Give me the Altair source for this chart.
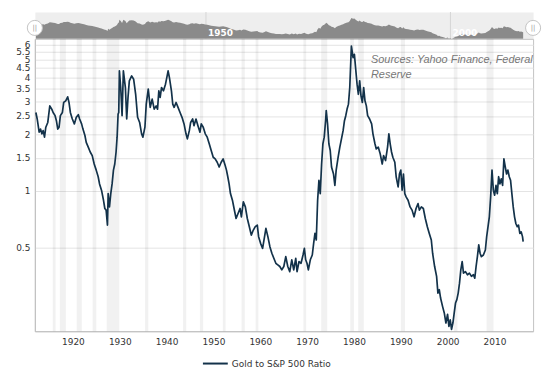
import altair as alt
import pandas as pd

# ---- data ----
years = [
    1912.09, 1912.37, 1912.79, 1913.08, 1913.36, 1913.64, 1913.93, 1914.21, 1914.63, 1915.06,
    1915.48, 1915.77, 1916.19, 1916.47, 1916.76, 1917.04, 1917.32, 1917.75, 1918.03, 1918.46,
    1918.88, 1919.16, 1919.45, 1919.87, 1920.30, 1920.72, 1921.15, 1921.43, 1921.85, 1922.14,
    1922.56, 1922.84, 1923.27, 1923.69, 1924.12, 1924.54, 1924.97, 1925.39, 1925.68, 1926.10,
    1926.52, 1926.81, 1927.09, 1927.37, 1927.52, 1927.80, 1928.08, 1928.36, 1928.65, 1928.93,
    1929.21, 1929.43, 1929.64, 1929.78, 1929.92, 1930.20, 1930.49, 1930.77, 1931.20, 1931.48,
    1931.76, 1932.04, 1932.54, 1932.96, 1933.39, 1933.81, 1934.24, 1934.66, 1934.94, 1935.37,
    1935.65, 1936.08, 1936.50, 1936.92, 1937.35, 1937.77, 1938.06, 1938.34, 1938.62, 1938.91,
    1939.33, 1939.76, 1940.04, 1940.32, 1940.60, 1941.03, 1941.31, 1941.60, 1942.02, 1942.44,
    1942.87, 1943.29, 1943.72, 1944.14, 1944.43, 1944.85, 1945.13, 1945.56, 1945.84, 1946.27,
    1946.69, 1947.12, 1947.40, 1947.82, 1948.25, 1948.67, 1949.10, 1949.52, 1949.95, 1950.37,
    1950.80, 1951.22, 1951.65, 1952.07, 1952.49, 1952.78, 1953.06, 1953.34, 1953.63, 1954.05,
    1954.40, 1954.83, 1955.25, 1955.68, 1955.96, 1956.38, 1956.81, 1957.23, 1957.66, 1958.08,
    1958.51, 1958.93, 1959.36, 1959.64, 1960.06, 1960.49, 1960.91, 1961.20, 1961.62, 1962.05,
    1962.47, 1962.89, 1963.32, 1963.74, 1964.17, 1964.59, 1965.02, 1965.44, 1965.87, 1966.29,
    1966.72, 1967.14, 1967.57, 1967.85, 1968.27, 1968.70, 1969.12, 1969.41, 1969.69, 1969.97,
    1970.26, 1970.68, 1971.10, 1971.39, 1971.67, 1971.95, 1972.24, 1972.52, 1972.80, 1973.09,
    1973.37, 1973.65, 1973.94, 1974.08, 1974.36, 1974.64, 1974.93, 1975.21, 1975.63, 1975.92,
    1976.20, 1976.62, 1976.98, 1977.33, 1977.68, 1977.97, 1978.25, 1978.53, 1978.82, 1979.10,
    1979.24, 1979.45, 1979.81, 1980.09, 1980.37, 1980.66, 1980.94, 1981.22, 1981.50, 1981.79,
    1982.07, 1982.35, 1982.64, 1982.92, 1983.34, 1983.77, 1984.05, 1984.48, 1984.76, 1985.18,
    1985.61, 1986.03, 1986.32, 1986.74, 1987.17, 1987.45, 1987.73, 1988.02, 1988.30, 1988.72,
    1989.01, 1989.43, 1989.71, 1990.00, 1990.28, 1990.56, 1990.85, 1991.13, 1991.55, 1991.98,
    1992.40, 1992.83, 1993.25, 1993.68, 1993.96, 1994.39, 1994.81, 1995.23, 1995.66, 1996.08,
    1996.51, 1996.79, 1997.22, 1997.64, 1997.92, 1998.21, 1998.49, 1998.91, 1999.28, 1999.63,
    1999.98, 2000.27, 2000.55, 2000.83, 2001.12, 2001.40, 2001.68, 2001.96, 2002.25, 2002.53,
    2002.81, 2003.10, 2003.38, 2003.80, 2004.23, 2004.65, 2005.08, 2005.50, 2005.79, 2006.07,
    2006.35, 2006.64, 2006.92, 2007.20, 2007.63, 2008.05, 2008.33, 2008.62, 2008.90, 2009.18,
    2009.47, 2009.75, 2010.03, 2010.32, 2010.60, 2010.88, 2011.16, 2011.45, 2011.73, 2012.01,
    2012.30, 2012.58, 2012.86, 2013.15, 2013.43, 2013.71, 2014.00, 2014.28, 2014.56, 2014.85,
    2015.13, 2015.41, 2015.69, 2015.98, 2016.12,
]
ratio = [
    2.61, 2.41, 2.05, 2.13, 2.01, 2.09, 1.93, 2.18, 2.31, 2.83,
    2.72, 2.61, 2.51, 2.36, 2.13, 2.18, 2.51, 2.61, 2.95, 3.01,
    3.16, 2.95, 2.61, 2.41, 2.27, 2.46, 2.54, 2.41, 2.27, 2.13,
    1.97, 1.81, 1.71, 1.61, 1.54, 1.39, 1.29, 1.19, 1.09, 1.01,
    0.893, 0.807, 0.791, 0.659, 0.968, 0.823, 0.968, 1.09, 1.29, 1.39,
    1.61, 1.93, 2.56, 2.61, 4.34, 3.54, 2.51, 4.34, 3.54, 2.41,
    3.14, 3.84, 4.08, 3.92, 3.26, 2.46, 2.31, 2.01, 1.93, 2.18,
    2.89, 3.47, 2.78, 3.07, 2.72, 2.83, 2.72, 3.40, 3.14, 3.54,
    3.40, 3.69, 4.00, 4.34, 4.00, 3.40, 2.89, 2.78, 2.95, 2.78,
    2.61, 2.46, 2.27, 2.01, 1.89, 2.09, 2.31, 2.41, 2.22, 2.41,
    2.22, 2.05, 2.27, 2.18, 2.01, 1.93, 1.78, 1.64, 1.51, 1.48,
    1.42, 1.34, 1.42, 1.48, 1.37, 1.29, 1.19, 1.09, 0.968, 0.893,
    0.807, 0.714, 0.759, 0.807, 0.729, 0.875, 0.823, 0.714, 0.646, 0.583,
    0.620, 0.646, 0.659, 0.572, 0.527, 0.496, 0.572, 0.633, 0.572, 0.506,
    0.467, 0.439, 0.413, 0.405, 0.397, 0.381, 0.397, 0.448, 0.397, 0.373,
    0.431, 0.381, 0.439, 0.373, 0.422, 0.413, 0.457, 0.496, 0.431, 0.413,
    0.381, 0.431, 0.457, 0.527, 0.595, 0.549, 0.893, 1.14, 0.968, 1.39,
    1.78, 1.93, 2.36, 2.67, 2.27, 1.78, 1.64, 1.34, 1.23, 1.07,
    1.29, 1.51, 1.71, 1.89, 2.09, 2.36, 2.51, 2.72, 2.89, 3.54,
    4.34, 5.88, 5.10, 5.31, 4.43, 3.69, 3.26, 3.84, 3.20, 2.95,
    3.54, 3.01, 2.83, 2.51, 2.41, 2.27, 2.01, 1.78, 1.67, 1.71,
    1.57, 1.39, 1.54, 1.45, 1.71, 2.01, 1.78, 1.61, 1.51, 1.42,
    1.19, 1.05, 1.23, 1.29, 1.01, 1.23, 0.968, 0.930, 0.893, 0.823,
    0.791, 0.729, 0.807, 0.857, 0.791, 0.823, 0.807, 0.714, 0.646, 0.595,
    0.549, 0.467, 0.397, 0.352, 0.287, 0.299, 0.270, 0.244, 0.225, 0.199,
    0.221, 0.191, 0.207, 0.184, 0.199, 0.225, 0.254, 0.265, 0.287, 0.324,
    0.381, 0.422, 0.366, 0.373, 0.359, 0.366, 0.352, 0.359, 0.344, 0.397,
    0.448, 0.517, 0.467, 0.448, 0.457, 0.486, 0.572, 0.646, 0.729, 0.930,
    1.29, 1.01, 0.949, 1.07, 0.968, 1.19, 1.09, 1.16, 1.07, 1.48,
    1.34, 1.23, 1.29, 1.19, 1.14, 0.968, 0.823, 0.729, 0.672, 0.646,
    0.659, 0.595, 0.607, 0.572, 0.538,
]
rec_start = [1915.7, 1917.2, 1920.8, 1924.2, 1927.2, 1935.4, 1943.5, 1947.1, 1952.0,
             1956.0, 1959.0, 1969.2, 1973.0, 1979.2, 1980.9, 1990.0, 2001.3, 2008.3]
rec_end = [1916.3, 1918.5, 1921.9, 1925.0, 1929.9, 1936.1, 1944.2, 1947.8, 1952.6,
           1956.7, 1959.6, 1969.8, 1974.3, 1980.0, 1982.1, 1990.9, 2002.1, 2009.8]
x_ticks = [1920, 1930, 1940, 1950, 1960, 1970, 1980, 1990, 2000, 2010]
y_ticks = [0.5, 1, 1.5, 2, 2.5, 3, 3.5, 4, 4.5, 5, 5.5, 6]
nav_ticks = [1950, 2000]
series_name = "Gold to S&P 500 Ratio"
source_lines = ["Sources: Yahoo Finance, Federal", "Reserve"]

# ---- scales / layout ----
X_DOMAIN = [1911.87, 2018.24]
NAV_X_DOMAIN = [1915.0, 2016.9]
Y_DOMAIN = [0.18, 6.42]
NAV_Y_DOMAIN = [0.18, 16]
W = 501
NAV_H = 27
MAIN_H = 294
LINE_COLOR = "#13324a"
FONT = "DejaVu Sans"

df = pd.DataFrame({"year": years, "ratio": ratio, "series": [series_name] * len(years)})
rec = pd.DataFrame({"start": rec_start, "end": rec_end})
ends = pd.DataFrame({"year": X_DOMAIN, "t": ["||", "||"]})
navt = pd.DataFrame({"year": nav_ticks, "label": [str(t) for t in nav_ticks]})
src_df = pd.DataFrame({"k": [0]})

xs = alt.Scale(domain=X_DOMAIN, nice=False, zero=False)
nav_xs = alt.Scale(domain=NAV_X_DOMAIN, nice=False, zero=False)

# ---- navigator ----
nav_grid = alt.Chart(navt).mark_rule(color="#d6d6d6", strokeWidth=1).encode(
    x=alt.X("year:Q", scale=nav_xs, axis=None),
    y=alt.value(0), y2=alt.value(NAV_H),
)
nav_area = alt.Chart(df).mark_area(color="#8a8a8a", opacity=1).encode(
    x=alt.X("year:Q", scale=xs, axis=None),
    y=alt.Y("ratio:Q", scale=alt.Scale(type="log", domain=NAV_Y_DOMAIN, nice=False), axis=None),
    y2=alt.datum(NAV_Y_DOMAIN[0]),
)
nav_text = alt.Chart(navt).mark_text(
    align="left", baseline="alphabetic", dx=2, color="white", font=FONT,
    fontSize=9, fontWeight="bold",
).encode(
    x=alt.X("year:Q", scale=nav_xs, axis=None),
    y=alt.value(NAV_H - 3),
    text="label:N",
)
handles = alt.Chart(ends).mark_circle(
    size=230, color="white", opacity=1, stroke="#c4c4c4", strokeWidth=1
).encode(x=alt.X("year:Q", scale=xs, axis=None), y=alt.value(16))
handle_txt = alt.Chart(ends).mark_text(
    fontSize=7, color="#9a9a9a", font=FONT, baseline="middle"
).encode(x=alt.X("year:Q", scale=xs, axis=None), y=alt.value(16), text="t:N")

nav = alt.layer(nav_grid, nav_area, nav_text, handles, handle_txt).resolve_scale(
    x="independent"
).properties(
    width=W, height=NAV_H,
    view=alt.ViewBackground(fill="#eeeeee", stroke="transparent"),
)

# ---- main chart ----
x_axis = alt.Axis(
    values=x_ticks, format="d", grid=False, ticks=False, labelPadding=6,
    domainColor="#c0c0c0", labelFont=FONT, labelFontSize=9, labelColor="#333333",
    labelFlush=False, labelOverlap=False, title=None,
)
y_axis = alt.Axis(
    values=y_ticks, format="~g", grid=True, gridColor="#e4e4e4", ticks=False,
    domainColor="#c0c0c0", labelPadding=5, labelFont=FONT, labelFontSize=9,
    labelColor="#333333", labelOverlap=False, labelFlush=False, title=None,
)
legend = alt.Legend(
    orient="none", legendX=168, legendY=340, title=None, symbolType="stroke",
    symbolSize=625, symbolStrokeWidth=2, labelFont=FONT, labelFontSize=9,
    labelColor="#333333", labelOffset=3, padding=0,
)

bands = alt.Chart(rec).mark_rect(color="black", opacity=0.055).encode(
    x=alt.X("start:Q", scale=xs, axis=x_axis), x2="end:Q",
    y=alt.value(0), y2=alt.value(MAIN_H),
)
line = alt.Chart(df).mark_line(strokeWidth=1.7, strokeJoin="round").encode(
    x=alt.X("year:Q", scale=xs, axis=x_axis),
    y=alt.Y("ratio:Q", scale=alt.Scale(type="log", domain=Y_DOMAIN, nice=False), axis=y_axis),
    color=alt.Color("series:N", scale=alt.Scale(domain=[series_name], range=[LINE_COLOR]),
                    legend=legend),
)
src = alt.Chart(src_df).mark_text(
    align="left", baseline="alphabetic", font="Liberation Sans", fontStyle="italic",
    fontSize=11, color="#777777", lineHeight=15,
).encode(x=alt.value(338), y=alt.value(24), text=alt.value(source_lines))

main = alt.layer(bands, line, src).properties(
    width=W, height=MAIN_H,
    view=alt.ViewBackground(fill="white", stroke="#c4c4c4"),
)

chart = alt.vconcat(nav, main, spacing=0, bounds="flush").properties(
    padding={"left": 7, "top": 2, "right": 5, "bottom": 5},
    background="white",
)

chart.save("out.html", embed_options={"renderer": "svg", "actions": False})
